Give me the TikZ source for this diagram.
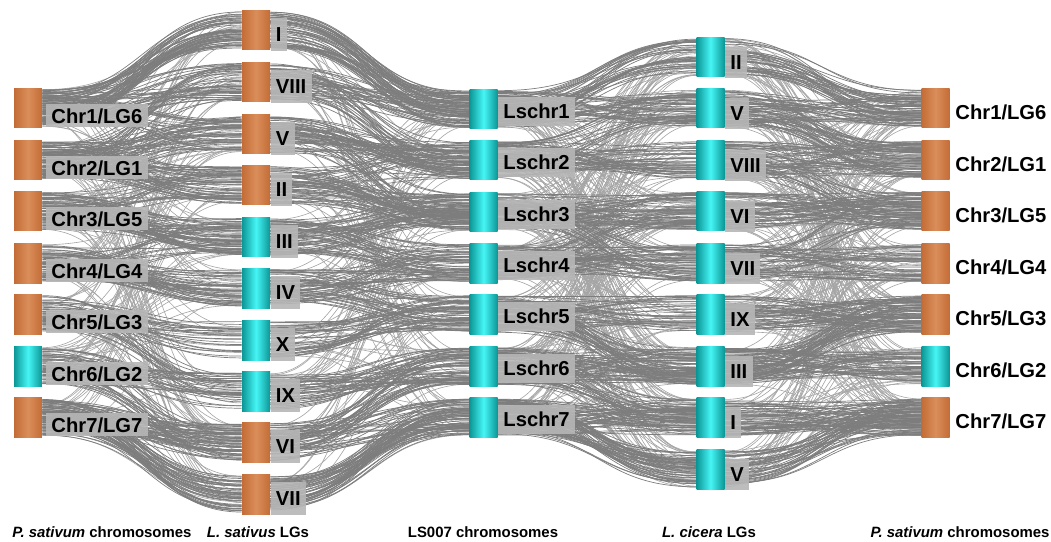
\documentclass[tikz,border=0pt]{standalone}
\usepackage{fontspec}
\setmainfont{Liberation Sans}
\usetikzlibrary{positioning}
\definecolor{chrorange}{RGB}{196,108,55}
\definecolor{chrorangemid}{RGB}{218,142,90}
\definecolor{chrcyan}{RGB}{12,150,150}
\definecolor{chrcyanmid}{RGB}{70,245,245}
\definecolor{linkgray}{RGB}{125,125,125}
\definecolor{linklight}{RGB}{165,165,165}
\definecolor{labgray}{RGB}{182,182,182}
\pgfdeclarelayer{bg}
\pgfsetlayers{bg,main}

\tikzset{
  obox/.style={minimum width=0.56cm, minimum height=0.8cm, inner sep=0pt,
    left color=chrorange, right color=chrorange, middle color=chrorangemid},
  cbox/.style={minimum width=0.56cm, minimum height=0.8cm, inner sep=0pt,
    left color=chrcyan, right color=chrcyan, middle color=chrcyanmid},
  link/.style={linkgray, line width=0.4pt},
  faint/.style={linklight, line width=0.35pt},
  lab/.style={anchor=west, fill=labgray, fill opacity=0.9, text opacity=1,
    inner xsep=3pt, inner ysep=1pt, font=\bfseries\fontsize{11.5}{13}\selectfont},
  rlab/.style={anchor=west, inner sep=1pt, font=\bfseries\fontsize{11.5}{13}\selectfont},
  axlab/.style={font=\bfseries\fontsize{8.5}{10}\selectfont}
}

\begin{document}
\begin{tikzpicture}[x=0.02cm, y=-0.02cm]
    \useasboundingbox (0,0) rectangle (1051,541);
    \pgfmathsetseed{2718}

    % P. sativum (left)
    \foreach \i/\y/\st in {1/108/obox, 2/160/obox, 3/211/obox, 4/263/obox, 5/314/obox, 6/366/cbox, 7/417/obox} {
        \node[\st] (pa\i) at (28,\y) {};
    }
    \foreach \i/\txt in {1/{Chr1/LG6}, 2/{Chr2/LG1}, 3/{Chr3/LG5}, 4/{Chr4/LG4}, 5/{Chr5/LG3}, 6/{Chr6/LG2}, 7/{Chr7/LG7}} {
        \node[lab, minimum height=0.46cm] (pa\i-l) at ([xshift=2pt, yshift=-4.5pt]pa\i.east) {\txt};
    }

    % L. sativus LGs
    \foreach \i/\y/\st in {1/30/obox, 2/82/obox, 3/134/obox, 4/185/obox, 5/237/cbox,
        6/288/cbox, 7/340/cbox, 8/391/cbox, 9/442/obox, 10/494/obox} {
        \node[\st] (la\i) at (256,\y) {};
    }
    \foreach \i/\txt in {1/I, 2/VIII, 3/V, 4/II, 5/III, 6/IV, 7/X, 8/IX, 9/VI, 10/VII} {
        \node[lab, minimum height=0.66cm] (la\i-l) at ([yshift=-2.5pt]la\i.east) {\txt};
    }

    % LS007
    \foreach \i/\y in {1/109, 2/160, 3/212, 4/263, 5/314, 6/366, 7/417} {
        \node[cbox] (ls\i) at (483.5,\y) {};
        \node[lab, minimum height=0.58cm] (ls\i-l) at ([yshift=-1.5pt]ls\i.east) {Lschr\i};
    }

    % L. cicera LGs
    \foreach \i/\y in {1/57, 2/108, 3/160, 4/211, 5/263, 6/314, 7/366, 8/417, 9/469} {
        \node[cbox] (lc\i) at (710.5,\y) {};
    }
    \foreach \i/\txt in {1/II, 2/V, 3/VIII, 4/VI, 5/VII, 6/IX, 7/III, 8/I, 9/V} {
        \node[lab, minimum height=0.62cm] (lc\i-l) at ([yshift=-3pt]lc\i.east) {\txt};
    }

    % P. sativum (right)
    \foreach \i/\y/\st in {1/108/obox, 2/160/obox, 3/211/obox, 4/263/obox, 5/314/obox, 6/366/cbox, 7/417/obox} {
        \node[\st] (pb\i) at (935.5,\y) {};
    }
    \foreach \i/\txt in {1/{Chr1/LG6}, 2/{Chr2/LG1}, 3/{Chr3/LG5}, 4/{Chr4/LG4}, 5/{Chr5/LG3}, 6/{Chr6/LG2}, 7/{Chr7/LG7}} {
        \node[rlab] (pb\i-l) at ([xshift=2pt, yshift=-2.5pt]pb\i.east) {\txt};
    }

    % links
    \begin{pgfonlayer}{bg}
    % scattered
    \foreach \A/\B/\na/\nb/\m in {pa/la/7/10/150, la/ls/10/7/120, ls/lc/7/9/260, lc/pb/9/7/260} {
        \foreach \k in {1,...,\m} {
            \pgfmathtruncatemacro\s{1+floor(rnd*(\na-0.001))}
            \pgfmathtruncatemacro\d{1+floor(rnd*(\nb-0.001))}
            \pgfmathsetmacro\ya{rnd*21-10.5}
            \pgfmathsetmacro\yb{rnd*21-10.5}
            \draw[faint] ([yshift=\ya pt]\A\s.east) .. controls +(100,0) and +(-100,0) .. ([yshift=\yb pt]\B\d.west);
        }
    }
    % bundles
    \foreach \A/\s/\B/\d/\n in {
        pa/1/la/1/55, pa/1/la/2/30, pa/1/la/3/15, pa/2/la/2/15, pa/2/la/3/35, pa/2/la/4/45,
        pa/3/la/4/15, pa/3/la/5/50, pa/4/la/5/15, pa/4/la/6/45, pa/5/la/7/25, pa/5/la/8/15,
        pa/6/la/8/25, pa/6/la/9/20, pa/7/la/9/45, pa/7/la/10/50,
        la/1/ls/1/60, la/2/ls/1/30, la/2/ls/2/20, la/3/ls/2/45, la/3/ls/3/15, la/4/ls/2/15,
        la/4/ls/3/45, la/5/ls/3/35, la/5/ls/4/30, la/6/ls/4/30, la/6/ls/5/25, la/7/ls/5/35,
        la/8/ls/6/40, la/9/ls/6/30, la/9/ls/7/25, la/10/ls/7/55,
        ls/1/lc/1/35, ls/1/lc/2/35, ls/2/lc/2/15, ls/2/lc/3/35, ls/3/lc/4/40, ls/3/lc/5/15,
        ls/4/lc/4/15, ls/4/lc/5/35, ls/5/lc/6/30, ls/5/lc/7/30, ls/6/lc/7/45, ls/6/lc/8/25,
        ls/7/lc/8/45, ls/7/lc/9/50,
        lc/1/pb/1/35, lc/2/pb/1/30, lc/2/pb/2/30, lc/3/pb/2/35, lc/3/pb/3/15, lc/4/pb/3/45,
        lc/5/pb/3/10, lc/5/pb/4/35, lc/6/pb/5/45, lc/7/pb/5/35, lc/7/pb/6/40, lc/8/pb/7/50,
        lc/9/pb/7/40} {
        \foreach \k in {1,...,\n} {
            \pgfmathsetmacro\ya{rnd*21-10.5}
            \pgfmathsetmacro\yb{rnd*21-10.5}
            \draw[link] ([yshift=\ya pt]\A\s.east) .. controls +(100,0) and +(-100,0) .. ([yshift=\yb pt]\B\d.west);
        }
    }
    \end{pgfonlayer}

    % axis labels
    \node[axlab] (ax1) at (102,532) {\textit{P. sativum} chromosomes};
    \node[axlab] (ax2) at (258,532) {\textit{L. sativus} LGs};
    \node[axlab] (ax3) at (483,532) {LS007 chromosomes};
    \node[axlab] (ax4) at (709,532) {\textit{L. cicera} LGs};
    \node[axlab] (ax5) at (960,532) {\textit{P. sativum} chromosomes};
\end{tikzpicture}
\end{document}
